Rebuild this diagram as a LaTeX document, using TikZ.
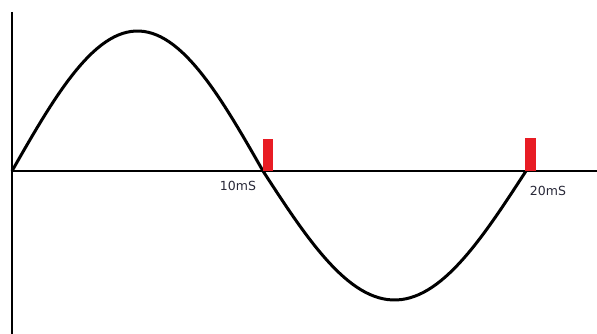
\documentclass[tikz,border=0pt]{standalone}
\usepackage{fontspec}
\setmainfont{DejaVu Sans}
\usepackage{tikz}
\usetikzlibrary{positioning}
\definecolor{MarkRed}{RGB}{232,28,36}
\definecolor{LabelInk}{RGB}{40,40,56}

\begin{document}
\begin{tikzpicture}[x=1pt,y=-1pt,
  axis/.style={line width=2.6pt},
  wave/.style={line width=3pt,line join=round},
  marker/.style={fill=MarkRed,draw=none},
  tlabel/.style={font=\fontsize{12.5}{14}\selectfont,text=LabelInk,inner sep=0pt}]
\useasboundingbox (0,0) rectangle (597,334);
\coordinate (o) at (12,171);
\coordinate (top) at (12,12);
\coordinate (bot) at (12,334);
\coordinate (xend) at (597,171);
\draw[axis] (top) -- (bot);
\draw[axis] (o) -- (xend);
% sine wave
\draw[wave] plot[domain=0:180,samples=60,variable=\t] ({12+\t/180*251},{171-140*sin(\t)})
  -- plot[domain=180:360,samples=60,variable=\t] ({263+(\t-180)/180*263},{171-129*sin(\t)});
% red marks
\fill[marker] (263,139) rectangle (273,171);
\fill[marker] (525,138) rectangle (536,171);
\node[tlabel] (t10) at (238,186) {10mS};
\node[tlabel] (t20) at (548,191) {20mS};
\end{tikzpicture}
\end{document}
